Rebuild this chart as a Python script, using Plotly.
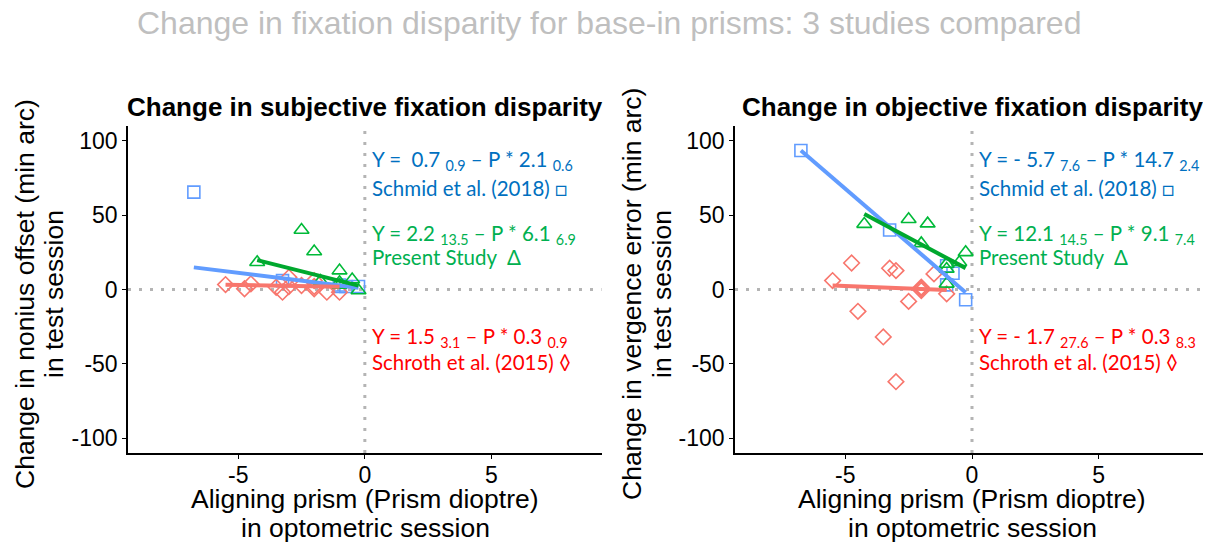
import plotly.graph_objects as go

# ---------------- data ----------------
schmid_x = [-6.75, -3.25, -1.0, -0.75, -1.0, -0.25]
schmid_subj = [65.5, 6.0, 3.0, 2.0, 2.0, 2.0]
schmid_obj = [93.5, 40.0, 16.0, 10.9, 3.1, -6.9]

present_x = [-4.25, -2.5, -2.0, -1.75, -1.0, -1.0, -1.0, -0.5, -0.25]
present_subj = [18.3, 40.0, 25.6, 5.6, 12.7, 4.9, 3.0, 6.7, -0.7]
present_obj = [44.0, 47.3, 31.0, 44.3, 17.2, 13.8, 3.8, 18.3, 25.0]

schroth_x = [-5.5, -4.75, -4.5, -3.5, -3.25, -3.0, -3.0, -2.5, -2.0, -2.0, -2.0, -1.5, -1.0]
schroth_subj = [3.3, 0.5, 3.8, 1.5, -1.8, 8.2, 2.0, 2.7, 6.0, 0.5, 2.0, -1.8, -1.8]
schroth_obj = [6.0, 17.8, -14.7, -31.9, 14.3, 12.7, -62.0, -8.0, 1.5, -0.7, 0.5, 10.5, -2.9]

# fitted lines (intercept, slope) as drawn
fit_subj = {"schmid": (0.7, -2.1), "present": (1.5, -4.3), "schroth": (1.5, -0.3)}
fit_obj = {"schmid": (-5.7, -14.7), "present": (12.1, -9.1), "schroth": (-1.0, -0.67)}

x_ticks = [-5, 0, 5]
x_tick_text = ["-5", "0", "5"]
y_ticks = [-100, -50, 0, 50, 100]
y_tick_text = ["-100", "-50", "0", "50", "100"]

panel_titles = ["Change in subjective fixation disparity", "Change in objective fixation disparity"]
y_titles = [("Change in nonius offset (min arc)", "in test session"),
            ("Change in vergence error (min arc)", "in test session")]
x_title = ("Aligning prism (Prism dioptre)", "in optometric session")
main_title = "Change in fixation disparity for base-in prisms: 3 studies compared"

NB = "\u00a0"
eq_subj = [
    ("Y =" + NB + NB + "0.7 <sub>0.9</sub> – P * 2.1 <sub>0.6</sub>", "Schmid et al. (2018) □"),
    ("Y = 2.2 <sub>13.5</sub> – P * 6.1 <sub>6.9</sub>", "Present Study" + NB + NB + "Δ"),
    ("Y = 1.5 <sub>3.1</sub> – P * 0.3 <sub>0.9</sub>", "Schroth et al. (2015) ◊"),
]
eq_obj = [
    ("Y = - 5.7 <sub>7.6</sub> – P * 14.7 <sub>2.4</sub>", "Schmid et al. (2018) □"),
    ("Y = 12.1 <sub>14.5</sub> – P * 9.1 <sub>7.4</sub>", "Present Study" + NB + NB + "Δ"),
    ("Y = - 1.7 <sub>27.6</sub> – P * 0.3 <sub>8.3</sub>", "Schroth et al. (2015) ◊"),
]

# ---------------- styles ----------------
C_BLUE, C_RED, C_GREEN = "#619CFF", "#F8766D", "#00BA38"
C_LINE_GREEN = "#00A82E"
T_BLUE, T_GREEN, T_RED = "#0070C0", "#00B050", "#FF0000"
ARIAL = "Liberation Sans, Arial"

fig = go.Figure()

studies = [
    ("schmid", schmid_x, schmid_subj, schmid_obj, C_BLUE, C_BLUE, "square-open", 12),
    ("schroth", schroth_x, schroth_subj, schroth_obj, C_RED, C_RED, "diamond-open", 12),
    ("present", present_x, present_subj, present_obj, C_GREEN, C_LINE_GREEN, "triangle-up-open", 13),
]

for panel, (xa, ya) in enumerate([("x", "y"), ("x2", "y2")]):
    fig.add_trace(go.Scatter(x=[-9.35, 9.35], y=[0, 0], mode="lines", xaxis=xa, yaxis=ya,
                             line=dict(color="#B4B4B4", width=3, dash="3px,8px"),
                             hoverinfo="skip", showlegend=False))
    fig.add_trace(go.Scatter(x=[0, 0], y=[-110, 110], mode="lines", xaxis=xa, yaxis=ya,
                             line=dict(color="#B4B4B4", width=3, dash="3px,8px"),
                             hoverinfo="skip", showlegend=False))
    for name, xs, ys_s, ys_o, mc, lc, sym, sz in studies:
        ys = ys_s if panel == 0 else ys_o
        fig.add_trace(go.Scatter(x=xs, y=ys, mode="markers", xaxis=xa, yaxis=ya,
                                 marker=dict(symbol=sym, size=sz, color=mc, line=dict(width=1.6, color=mc)),
                                 showlegend=False))
    for name, xs, ys_s, ys_o, mc, lc, sym, sz in studies:
        a, b = (fit_subj if panel == 0 else fit_obj)[name]
        lx = [min(xs), max(xs)]
        ly = [a + b * v for v in lx]
        fig.add_trace(go.Scatter(x=lx, y=ly, mode="lines", xaxis=xa, yaxis=ya,
                                 line=dict(color=lc, width=4), showlegend=False))

axis_common = dict(showline=True, linecolor="black", linewidth=1.5, ticks="outside", ticklen=4,
                   tickcolor="black", tickwidth=1.2, showgrid=False, zeroline=False,
                   tickfont=dict(family=ARIAL, size=23, color="black"))

OFF = 8  # browser body margin
W, H = 1211 - OFF, 543 - OFF
ml, mr, mt, mb = 128 - OFF, 2, 126 - OFF, 90
pw = W - ml - mr
d1 = [0, (601.7 - OFF - ml) / pw]
d2 = [(735 - OFF - ml) / pw, 1.0]

xa_extra = dict(range=[-9.35, 9.35], tickvals=x_ticks, ticktext=x_tick_text, ticklabelstandoff=-3)
ya_extra = dict(domain=[0, 1], range=[-110, 110], tickvals=y_ticks, ticktext=y_tick_text)

fig.update_layout(
    width=W, height=H, margin=dict(l=ml, r=mr, t=mt, b=mb),
    plot_bgcolor="white", paper_bgcolor="white",
    xaxis=dict(domain=d1, anchor="y", **xa_extra, **axis_common),
    yaxis=dict(anchor="x", **ya_extra, **axis_common),
    xaxis2=dict(domain=d2, anchor="y2", **xa_extra, **axis_common),
    yaxis2=dict(anchor="x2", **ya_extra, **axis_common),
)

ph = H - mt - mb
def pxx(px):  # reference pixel -> paper x
    return (px - OFF - ml) / pw
def pxy(py):  # reference pixel -> paper y
    return (H - mb - (py - OFF)) / ph

ann = []
ann.append(dict(text=main_title, x=pxx(609), y=pxy(23), xref="paper", yref="paper",
                showarrow=False, xanchor="center", yanchor="middle",
                font=dict(family=ARIAL, size=32, color="#BFBFBF")))
for t, cx in zip(panel_titles, [365, 972]):
    ann.append(dict(text="<b>" + t + "</b>", x=pxx(cx), y=pxy(107), xref="paper", yref="paper",
                    showarrow=False, xanchor="center", yanchor="middle",
                    font=dict(family=ARIAL, size=26, color="black")))
for (l1, l2), (c1, c2) in zip(y_titles, [(25, 54), (632, 662)]):
    for t, cx in [(l1, c1), (l2, c2)]:
        ann.append(dict(text=t, x=pxx(cx), y=pxy(294), xref="paper", yref="paper",
                        showarrow=False, xanchor="center", yanchor="middle", textangle=-90,
                        font=dict(family=ARIAL, size=26.5, color="black")))
for cx in [365, 972]:
    for t, cy in [(x_title[0], 499), (x_title[1], 528)]:
        ann.append(dict(text=t, x=pxx(cx), y=pxy(cy), xref="paper", yref="paper",
                        showarrow=False, xanchor="center", yanchor="middle",
                        font=dict(family=ARIAL, size=26.5, color="black")))
rows_y = [(160, 188), (234, 257), (337, 362)]
cols = [T_BLUE, T_GREEN, T_RED]
for eqs, lx in [(eq_subj, 370), (eq_obj, 977)]:
    for (eq, lab), (y1, y2), col in zip(eqs, rows_y, cols):
        for txt, py in [(eq, y1), (lab, y2)]:
            ann.append(dict(text=txt, x=pxx(lx), y=pxy(py), xref="paper", yref="paper",
                            showarrow=False, xanchor="left", yanchor="middle",
                            font=dict(family="Lato, Open Sans", size=20.5, color=col)))

fig.update_layout(annotations=ann)
fig.write_html("out.html")
